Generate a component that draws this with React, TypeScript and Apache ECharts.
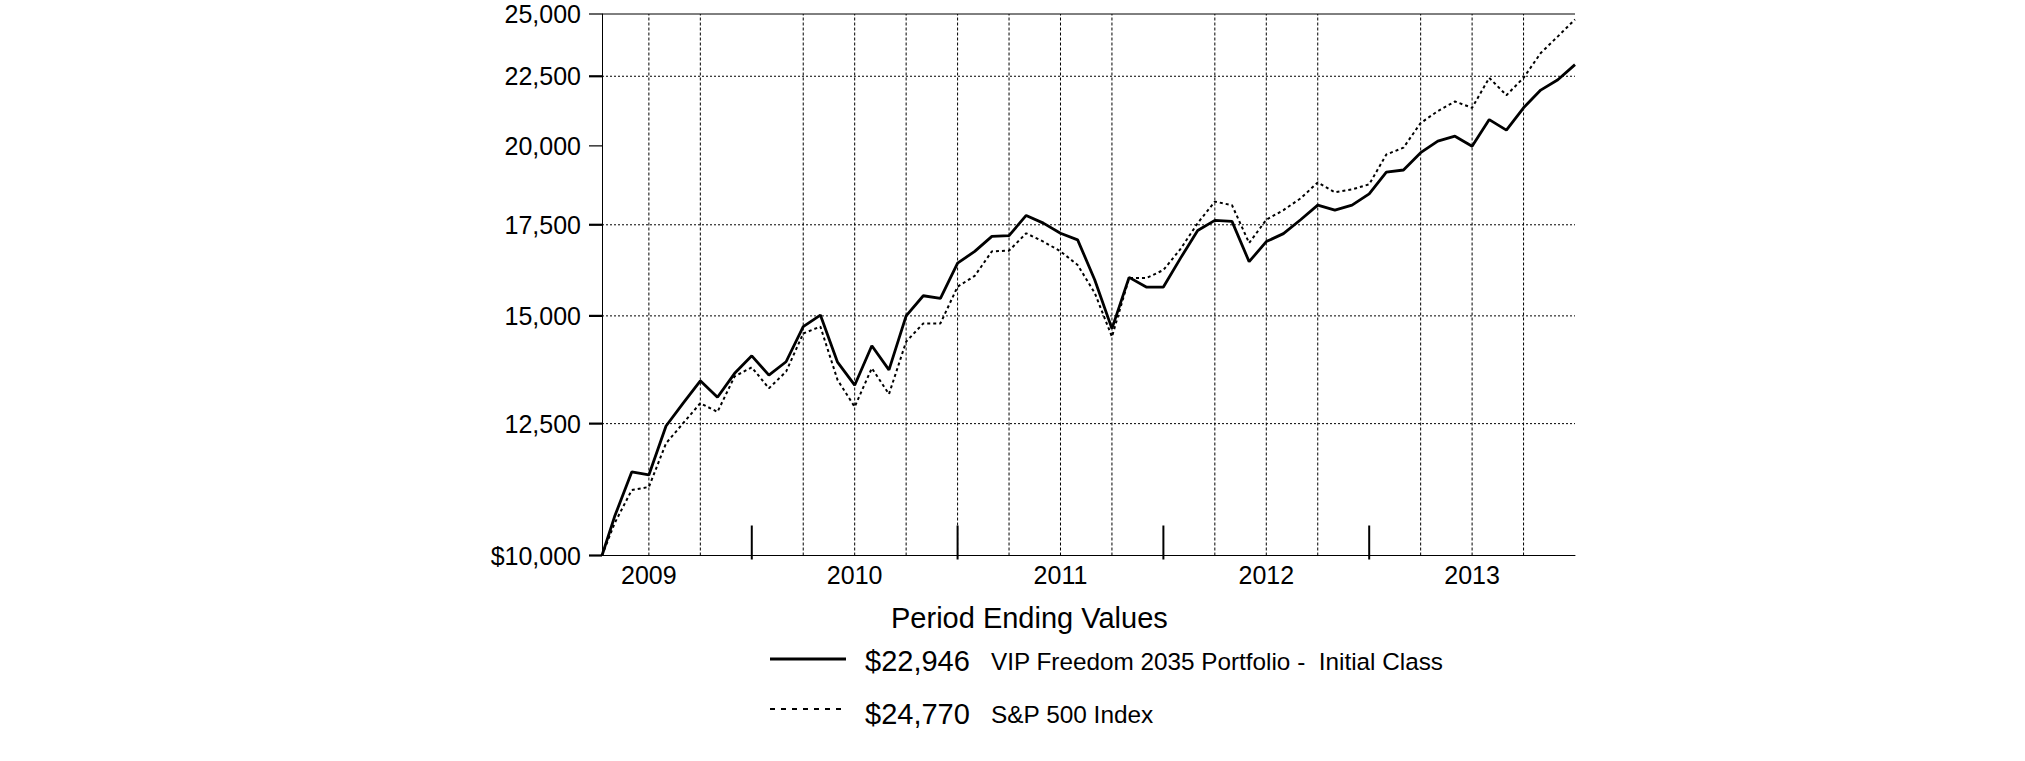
import React, { useEffect, useRef } from "react";
import * as echarts from "echarts";

// ---- data ----
const periods = [
  "2009-04-08", "2009-04", "2009-05", "2009-06", "2009-07", "2009-08", "2009-09", "2009-10", "2009-11", "2009-12",
  "2010-01", "2010-02", "2010-03", "2010-04", "2010-05", "2010-06", "2010-07", "2010-08", "2010-09", "2010-10", "2010-11", "2010-12",
  "2011-01", "2011-02", "2011-03", "2011-04", "2011-05", "2011-06", "2011-07", "2011-08", "2011-09", "2011-10", "2011-11", "2011-12",
  "2012-01", "2012-02", "2012-03", "2012-04", "2012-05", "2012-06", "2012-07", "2012-08", "2012-09", "2012-10", "2012-11", "2012-12",
  "2013-01", "2013-02", "2013-03", "2013-04", "2013-05", "2013-06", "2013-07", "2013-08", "2013-09", "2013-10", "2013-11", "2013-12",
];

const fundValues = [
  10000, 10680, 11520, 11460, 12450, 12940, 13440, 13070, 13610, 14020,
  13570, 13880, 14730, 15020, 13870, 13340, 14260, 13690, 15000, 15520, 15450, 16400,
  16730, 17160, 17180, 17780, 17550, 17250, 17060, 15940, 14680, 16010, 15750, 15750,
  16540, 17330, 17630, 17600, 16440, 17010, 17240, 17650, 18090, 17940, 18090, 18440,
  19130, 19200, 19770, 20160, 20330, 19990, 20910, 20540, 21330, 21980, 22370, 22946,
];

const indexValues = [
  10000, 10560, 11170, 11230, 12090, 12510, 12940, 12750, 13540, 13750,
  13270, 13650, 14560, 14730, 13460, 12860, 13730, 13140, 14360, 14810, 14810, 15760,
  16050, 16730, 16750, 17250, 17010, 16730, 16350, 15590, 14480, 15990, 15990, 16210,
  16800, 17550, 18200, 18090, 16970, 17650, 17940, 18300, 18800, 18490, 18580, 18740,
  19710, 19940, 20790, 21210, 21560, 21330, 22440, 21790, 22440, 23400, 24070, 24770,
];

const seriesNames = ["VIP Freedom 2035 Portfolio -  Initial Class", "S&P 500 Index"];
const endingValues = ["$22,946", "$24,770"];
const legendTitle = "Period Ending Values";

const yTickValues = [10000, 12500, 15000, 17500, 20000, 22500, 25000];
const yTickLabels = ["$10,000", "12,500", "15,000", "17,500", "20,000", "22,500", "25,000"];
const yGridValues = [12500, 15000, 17500, 22500];

const yearLabels = ["2009", "2010", "2011", "2012", "2013"];
const yearLabelPeriods = ["2009-06", "2010-06", "2011-06", "2012-06", "2013-06"];
const yearTickPeriods = ["2009-12", "2010-12", "2011-12", "2012-12"];
const xGridPeriods = [
  "2009-06", "2009-09", "2010-03", "2010-06", "2010-09", "2010-12", "2011-03", "2011-06",
  "2011-09", "2012-03", "2012-06", "2012-09", "2013-03", "2013-06", "2013-09",
];

// months since end of 2008 (month-end points), partial month for a dated start
function toX(p: string): number {
  const parts = p.split("-").map(Number);
  const base = (parts[0] - 2009) * 12;
  if (parts.length === 3) return base + (parts[1] - 1) + parts[2] / 30;
  return base + parts[1];
}

const FONT = '"Liberation Sans", Arial, Helvetica, sans-serif';

export default function App() {
  const ref = useRef<HTMLDivElement>(null);

  useEffect(() => {
    document.body.style.margin = "0";
    if (!ref.current) return;
    const chart = echarts.init(ref.current, undefined, { renderer: "svg" });

    const xMin = toX(periods[0]);
    const xMax = toX(periods[periods.length - 1]);
    const yMin = yTickValues[0];
    const yMax = yTickValues[yTickValues.length - 1];

    const option: any = {
      animation: false,
      grid: { left: 602, right: 450, top: 14, bottom: 205.5, containLabel: false },
      xAxis: {
        type: "value",
        min: xMin,
        max: xMax,
        axisLine: { show: true, onZero: false, lineStyle: { color: "#000", width: 1 } },
        axisTick: { show: false },
        axisLabel: { show: false },
        splitLine: { show: false },
      },
      yAxis: {
        type: "log",
        logBase: 10,
        min: yMin,
        max: yMax,
        axisLine: { show: true, lineStyle: { color: "#000", width: 1 } },
        axisTick: { show: false },
        axisLabel: { show: false },
        splitLine: { show: false },
      },
      series: [
        // vertical dotted grid lines
        {
          type: "custom",
          coordinateSystem: "cartesian2d",
          clip: false,
          silent: true,
          z: 1,
          data: xGridPeriods.map((p) => [toX(p), yMin]),
          renderItem: (_params: any, api: any) => {
            const b = api.coord([api.value(0), yMin]);
            const t = api.coord([api.value(0), yMax]);
            return {
              type: "line",
              shape: { x1: b[0], y1: b[1], x2: t[0], y2: t[1] },
              style: { stroke: "#000", lineWidth: 1, lineDash: [3, 2] },
            };
          },
        },
        // horizontal grid lines, y ticks and labels
        {
          type: "custom",
          coordinateSystem: "cartesian2d",
          clip: false,
          silent: true,
          z: 1,
          data: yTickValues.map((v) => [xMin, v]),
          renderItem: (params: any, api: any) => {
            const v = api.value(1);
            const l = api.coord([xMin, v]);
            const r = api.coord([xMax, v]);
            const isGrid = yGridValues.indexOf(v) >= 0;
            const children: any[] = [
              {
                type: "line",
                shape: { x1: l[0] - 13, y1: l[1], x2: l[0], y2: l[1] },
                style: { stroke: "#000", lineWidth: isGrid || v === yMin ? 2.2 : 1.2 },
              },
              {
                type: "text",
                x: l[0] - 21,
                y: l[1],
                style: {
                  text: yTickLabels[params.dataIndex],
                  font: `25px ${FONT}`,
                  fill: "#000",
                  align: "right",
                  verticalAlign: "middle",
                },
              },
            ];
            if (isGrid) {
              children.push({
                type: "line",
                shape: { x1: l[0], y1: l[1], x2: r[0], y2: r[1] },
                style: { stroke: "#000", lineWidth: 1, lineDash: [2, 2] },
              });
            } else if (v === yMax) {
              children.push({
                type: "line",
                shape: { x1: l[0], y1: l[1], x2: r[0], y2: r[1] },
                style: { stroke: "#000", lineWidth: 1 },
              });
            }
            return { type: "group", children };
          },
        },
        // year boundary ticks
        {
          type: "custom",
          coordinateSystem: "cartesian2d",
          clip: false,
          silent: true,
          z: 2,
          data: yearTickPeriods.map((p) => [toX(p), yMin]),
          renderItem: (_params: any, api: any) => {
            const b = api.coord([api.value(0), yMin]);
            return {
              type: "line",
              shape: { x1: b[0], y1: b[1] + 4, x2: b[0], y2: b[1] - 30 },
              style: { stroke: "#000", lineWidth: 2 },
            };
          },
        },
        // year labels
        {
          type: "custom",
          coordinateSystem: "cartesian2d",
          clip: false,
          silent: true,
          z: 2,
          data: yearLabelPeriods.map((p) => [toX(p), yMin]),
          renderItem: (params: any, api: any) => {
            const b = api.coord([api.value(0), yMin]);
            return {
              type: "text",
              x: b[0],
              y: b[1] + 19,
              style: {
                text: yearLabels[params.dataIndex],
                font: `25px ${FONT}`,
                fill: "#000",
                align: "center",
                verticalAlign: "middle",
              },
            };
          },
        },
        {
          type: "line",
          name: seriesNames[1],
          data: periods.map((p, i) => [toX(p), indexValues[i]]),
          symbol: "none",
          showSymbol: false,
          z: 3,
          lineStyle: { color: "#000", width: 2, type: [3, 3] },
        },
        {
          type: "line",
          name: seriesNames[0],
          data: periods.map((p, i) => [toX(p), fundValues[i]]),
          symbol: "none",
          showSymbol: false,
          z: 4,
          lineStyle: { color: "#000", width: 2.8, type: "solid" },
        },
      ],
      graphic: [
        {
          type: "text",
          x: 891,
          y: 618,
          style: { text: legendTitle, font: `29px ${FONT}`, fill: "#000", align: "left", verticalAlign: "middle" },
        },
        {
          type: "line",
          shape: { x1: 770, y1: 659, x2: 846, y2: 659 },
          style: { stroke: "#000", lineWidth: 3 },
        },
        {
          type: "text",
          x: 865,
          y: 661,
          style: { text: endingValues[0], font: `29px ${FONT}`, fill: "#000", align: "left", verticalAlign: "middle" },
        },
        {
          type: "text",
          x: 991,
          y: 661,
          style: { text: seriesNames[0], font: `24.3px ${FONT}`, fill: "#000", align: "left", verticalAlign: "middle" },
        },
        {
          type: "line",
          shape: { x1: 770, y1: 709, x2: 846, y2: 709 },
          style: { stroke: "#000", lineWidth: 2, lineDash: [5, 6] },
        },
        {
          type: "text",
          x: 865,
          y: 714,
          style: { text: endingValues[1], font: `29px ${FONT}`, fill: "#000", align: "left", verticalAlign: "middle" },
        },
        {
          type: "text",
          x: 991,
          y: 714,
          style: { text: seriesNames[1], font: `24.4px ${FONT}`, fill: "#000", align: "left", verticalAlign: "middle" },
        },
      ],
    };

    chart.setOption(option);
    return () => chart.dispose();
  }, []);

  return <div ref={ref} style={{ width: 2025, height: 761 }} />;
}
